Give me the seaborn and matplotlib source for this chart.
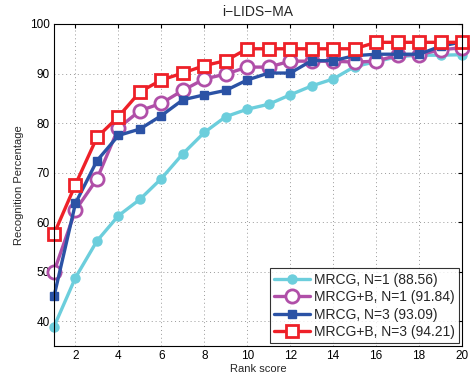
import numpy as np
import pandas as pd
import seaborn as sns
import matplotlib
matplotlib.use("Agg")
import matplotlib.pyplot as plt

rank = list(range(1, 21))
mrcg_n1 = [38.9, 48.8, 56.2, 61.3, 64.6, 68.8, 73.8, 78.1, 81.3, 82.8, 83.8, 85.7, 87.5, 88.9, 91.4, 92.4, 93.4, 93.7, 93.7, 93.8]
mrcgb_n1 = [50.0, 62.4, 68.7, 79.0, 82.5, 84.0, 86.6, 88.9, 89.9, 91.3, 91.3, 92.5, 92.5, 92.5, 92.3, 92.5, 93.7, 93.8, 94.8, 95.2]
mrcg_n3 = [45.0, 63.8, 72.4, 77.5, 78.8, 81.5, 84.7, 85.7, 86.6, 88.7, 90.1, 90.1, 92.6, 92.6, 93.6, 93.9, 93.9, 93.9, 95.5, 96.4]
mrcgb_n3 = [57.6, 67.6, 77.1, 81.3, 86.3, 88.7, 90.1, 91.6, 92.6, 95.0, 95.0, 95.0, 95.0, 95.0, 95.0, 96.3, 96.3, 96.3, 96.3, 96.3]
labels = ["MRCG, N=1 (88.56)", "MRCG+B, N=1 (91.84)", "MRCG, N=3 (93.09)", "MRCG+B, N=3 (94.21)"]
title = "i\u2212LIDS\u2212MA"
xlabel = "Rank score"
ylabel = "Recognition Percentage"
xticks = [2, 4, 6, 8, 10, 12, 14, 16, 18, 20]
yticks = [40, 50, 60, 70, 80, 90, 100]

sns.set_style("white")
plt.rcParams['font.family'] = ['Liberation Sans', 'DejaVu Sans']

fig = plt.figure(figsize=(4.70, 3.79), dpi=100)
ax = fig.add_axes([54/470, 1-346/379, (462-54)/470, (346-24)/379])

series = [mrcg_n1, mrcgb_n1, mrcg_n3, mrcgb_n3]
styles = [
    dict(color="#6ccedc", marker="o", markersize=6.5, markerfacecolor="#6ccedc", markeredgecolor="#6ccedc", markeredgewidth=1),
    dict(color="#b04fa8", marker="o", markersize=9.5, markerfacecolor="white", markeredgecolor="#b04fa8", markeredgewidth=2.0),
    dict(color="#2b52a5", marker="s", markersize=5.5, markerfacecolor="#2b52a5", markeredgecolor="#2b52a5", markeredgewidth=1),
    dict(color="#ee2028", marker="s", markersize=8, markerfacecolor="white", markeredgecolor="#ee2028", markeredgewidth=2.0),
]
for vals, lab, st in zip(series, labels, styles):
    df = pd.DataFrame({"rank": rank, "val": vals})
    sns.lineplot(data=df, x="rank", y="val", ax=ax, label=lab, linewidth=2.4, clip_on=False, **st)

ax.set_xlim(1, 20)
ax.set_ylim(35, 100)
ax.set_xticks(xticks)
ax.set_yticks(yticks)
ax.grid(True, linestyle=(0, (1, 3)), color="#999999", linewidth=0.7)
ax.tick_params(direction="in", length=3, labelsize=8.5, top=True, right=True, pad=3, colors="black")
for s in ax.spines.values():
    s.set_color("black")
    s.set_linewidth(0.8)
ax.set_title(title, fontsize=10, pad=6)
ax.set_xlabel(xlabel, fontsize=8, labelpad=1)
ax.set_ylabel(ylabel, fontsize=8, labelpad=4)
leg = ax.legend(loc="lower right", fontsize=10, handlelength=2.6, frameon=True, fancybox=False,
                edgecolor="black", borderpad=0.3, labelspacing=0.25, handletextpad=0.3,
                borderaxespad=0.2)
leg.get_frame().set_linewidth(0.8)
leg.set_zorder(10)

fig.savefig("out.png", dpi=100)
